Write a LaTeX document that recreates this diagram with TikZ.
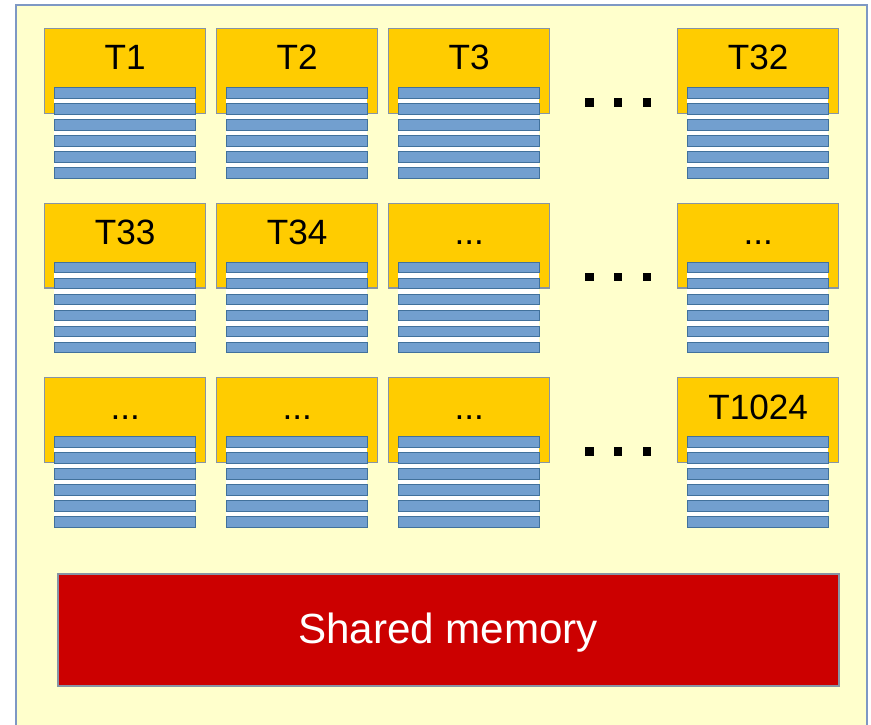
\documentclass[tikz,border=0pt]{standalone}
\usepackage{fontspec}
\setmainfont{Liberation Sans}
\usetikzlibrary{positioning}
\definecolor{gpuPaleYellow}{RGB}{255,255,204}
\definecolor{gpuFrame}{RGB}{126,152,196}
\definecolor{gpuGold}{RGB}{255,204,0}
\definecolor{gpuGrey}{RGB}{135,148,165}
\definecolor{gpuBlue}{RGB}{114,159,207}
\definecolor{gpuDarkBlue}{RGB}{65,113,156}
\definecolor{gpuRed}{RGB}{204,0,0}
\newcommand{\tdots}{...}

\begin{document}
\begin{tikzpicture}[
  x=0.02cm, y=-0.02cm,
  thread/.style={
    draw=gpuGrey,
    fill=gpuGold,
    line width=0.8pt,
    minimum width=3.22cm,
    minimum height=1.70cm,
    inner sep=0pt,
    anchor=north west
  },
  tname/.style={anchor=base, inner sep=0pt, font=\fontsize{20}{24}\selectfont},
  regback/.style={fill=white, minimum width=2.82cm, minimum height=1.81cm,
    inner sep=0pt, anchor=north west},
  reg/.style={
    draw=gpuDarkBlue,
    fill=gpuBlue,
    line width=0.6pt,
    minimum width=2.82cm,
    minimum height=0.21cm,
    inner sep=0pt,
    anchor=north west
  },
  dot/.style={fill=black, minimum size=0.17cm, inner sep=0pt},
  shmem/.style={
    draw=gpuGrey,
    fill=gpuRed,
    line width=0.8pt,
    minimum width=15.62cm,
    minimum height=2.24cm,
    text=white,
    font=\fontsize{24}{28}\selectfont
  }
]
  \useasboundingbox (0,0) rectangle (871,724);
  \clip (0,0) rectangle (871,724);

  % the block
  \draw[draw=gpuFrame, fill=gpuPaleYellow, line width=0.8pt] (16,5) rectangle (867,760);

  % threads with their registers
  \foreach \y/\r/\la/\lb/\lc/\ld in {
      28/1/T1/T2/T3/T32,
      202.5/2/T33/T34/\tdots/\tdots,
      377/3/\tdots/\tdots/\tdots/T1024}{
    \foreach \c/\x/\lab in {1/44/\la, 2/216/\lb, 3/388/\lc, 4/677/\ld}{
      \node[thread] (t\r\c) at (\x,\y) {};
      \node[tname] (n\r\c) at ([yshift=-0.84cm]t\r\c.north) {\lab};
      \node[regback] (b\r\c) at (\x+10,\y+59) {};
      \foreach \k in {0,...,5}
        \node[reg] (r\r\c\k) at (\x+10,\y+59+16*\k) {};
    }
    \foreach \d/\dx in {1/589.5, 2/618, 3/647}
      \node[dot] (d\r\d) at (\dx,\y+74.5) {};
  }

  \node[shmem] (shared) at (448.5,630) {};
  \node[anchor=base, text=white, font=\fontsize{24}{28}\selectfont, inner sep=0pt]
    (sharedname) at (448,643) {Shared memory};
\end{tikzpicture}
\end{document}
